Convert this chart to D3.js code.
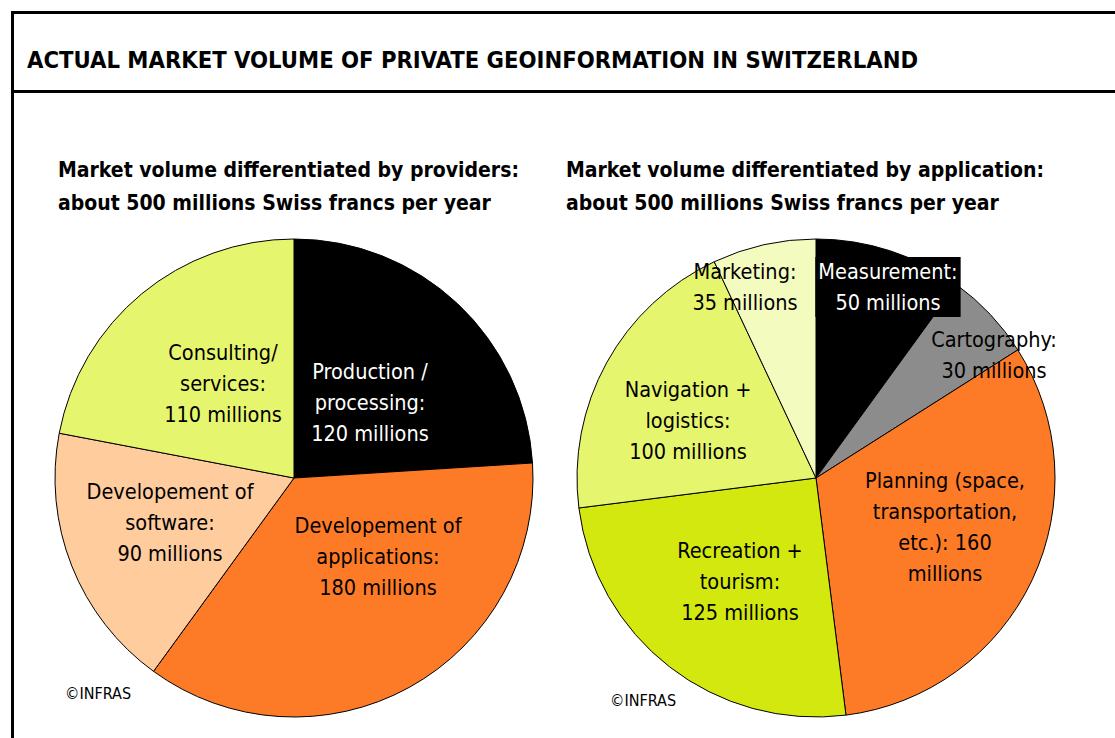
<!DOCTYPE html>
<html>
<head>
<meta charset="utf-8">
<script src="https://cdn.jsdelivr.net/npm/d3@7"></script>
<style>
  body { margin: 0; background: #fff; }
  svg text { font-family: "DejaVu Sans Condensed", "DejaVu Sans", sans-serif; }
</style>
</head>
<body>
<div class="chart"></div>
<script>
// left pie: providers
var providerLabels = [["Production /", "processing:", "120 millions"],
                      ["Developement of", "applications:", "180 millions"],
                      ["Developement of", "software:", "90 millions"],
                      ["Consulting/", "services:", "110 millions"]];
var providerValues = [120, 180, 90, 110];
var providerColors = ["#000000", "#fd7b27", "#ffcc9e", "#e6f56e"];

// right pie: applications
var applicationLabels = [["Measurement:", "50 millions"],
                         ["Cartography:", "30 millions"],
                         ["Planning (space,", "transportation,", "etc.): 160", "millions"],
                         ["Recreation +", "tourism:", "125 millions"],
                         ["Navigation +", "logistics:", "100 millions"],
                         ["Marketing:", "35 millions"]];
var applicationValues = [50, 30, 160, 125, 100, 35];
var applicationColors = ["#000000", "#8c8c8c", "#fd7b27", "#d2e80f", "#e6f56e", "#f3fbbf"];

var width = 1115, height = 738, radius = 239;

var svg = d3.select(".chart").append("svg")
    .attr("width", width)
    .attr("height", height);

// frame
svg.append("path")
    .attr("d", "M12.5,738 V12.5 H1115")
    .attr("fill", "none").attr("stroke", "#000").attr("stroke-width", 3);
svg.append("line")
    .attr("x1", 11).attr("x2", 1115).attr("y1", 91.5).attr("y2", 91.5)
    .attr("stroke", "#000").attr("stroke-width", 3);

svg.append("text")
    .attr("x", 27).attr("y", 68)
    .attr("font-size", 23.6).attr("font-weight", "bold")
    .text("ACTUAL MARKET VOLUME OF PRIVATE GEOINFORMATION IN SWITZERLAND");

var pie = d3.pie().sort(null).value(function (d) { return d; });
var arc = d3.arc().innerRadius(0).outerRadius(radius);

function drawPie(cx, cy, values, colors, labels, offsets, whiteIdx, subtitle, subX, copyX, copyY) {
    var g = svg.append("g").attr("transform", "translate(" + cx + "," + cy + ")");

    svg.append("text")
        .attr("x", subX).attr("y", 177)
        .attr("font-size", 21).attr("font-weight", "bold")
        .selectAll("tspan").data(subtitle).enter().append("tspan")
        .attr("x", subX).attr("dy", function (d, i) { return i ? 33 : 0; })
        .text(function (d) { return d; });

    g.selectAll(".arc")
        .data(pie(values))
        .enter().append("path")
        .attr("class", "arc")
        .attr("d", arc)
        .attr("fill", function (d, i) { return colors[i]; })
        .attr("stroke", "#000").attr("stroke-width", 1);

    var lab = g.selectAll(".lab")
        .data(labels)
        .enter().append("g")
        .attr("class", "lab")
        .attr("transform", function (d, i) { return "translate(" + offsets[i][0] + "," + offsets[i][1] + ")"; });

    lab.each(function (d, i) {
        var t = d3.select(this).append("text")
            .attr("text-anchor", "middle")
            .attr("font-size", 21.5)
            .attr("fill", whiteIdx.indexOf(i) >= 0 ? "#fff" : "#000");
        t.selectAll("tspan").data(d).enter().append("tspan")
            .attr("x", 0)
            .attr("y", function (s, j) { return j * 31 + 8; })
            .text(function (s) { return s; });
    });

    svg.append("text")
        .attr("x", copyX).attr("y", copyY)
        .attr("font-size", 16)
        .text("\u00A9INFRAS");
    return lab;
}

drawPie(294, 478, providerValues, providerColors, providerLabels,
    [[76, -107], [84, 47], [-124, 13], [-71, -126]], [0],
    ["Market volume differentiated by providers:", "about 500 millions Swiss francs per year"], 58, 65, 699);

var right = drawPie(816, 478, applicationValues, applicationColors, applicationLabels,
    [[72, -207], [178, -139], [129, 2], [-76, 72], [-128, -89], [-71, -207]], [0],
    ["Market volume differentiated by application:", "about 500 millions Swiss francs per year"], 566, 610, 706);

// black box behind the measurement label
right.filter(function (d, i) { return i === 0; }).each(function () {
    var b = this.getBBox();
    d3.select(this).insert("rect", "text")
        .attr("x", b.x - 3).attr("y", b.y - 2)
        .attr("width", b.width + 6).attr("height", b.height + 4)
        .attr("fill", "#000");
});
</script>
</body>
</html>
